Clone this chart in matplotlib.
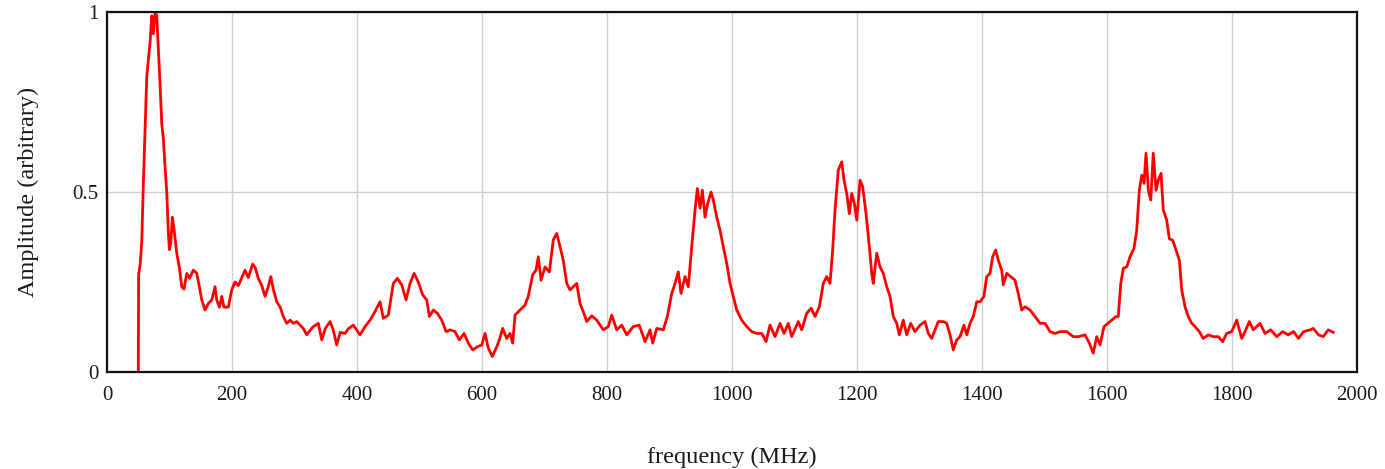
import matplotlib
matplotlib.use("Agg")
import matplotlib.pyplot as plt

# spectrum, (MHz, amplitude)
freq = [50, 50.5, 53, 55.5, 58, 63.5, 69, 71.5, 74, 76.8, 79.5, 84.8, 87.5, 90, 92.8, 95.5, 98, 99.7,
        102, 104.5, 107, 111.5, 115.7, 119.5, 123, 127.5, 132, 138, 143.5, 147.7, 151.5, 156.8, 162,
        167.5, 172.8, 175.5, 179.7, 183.5, 187, 194, 199.5, 204.8, 210, 215.5, 220.8, 226, 233, 237,
        242, 247.5, 252.8, 258, 262, 266, 271.5, 277, 282, 287.5, 293, 298, 303.5, 308.8, 314, 319.5,
        325, 330, 338, 343.5, 349, 356.8, 362, 367.5, 373, 380.8, 386, 394, 404.8, 412.8, 420.8, 428.8,
        436.8, 442, 450, 458, 464.5, 471.5, 478.4, 484.8, 491.2, 498, 505, 511.5, 515.7, 522, 528.5,
        535.5, 542.4, 548.8, 556.8, 563.7, 571.2, 578, 585, 592.5, 599.5, 604.8, 610, 616.5, 623.5,
        627.7, 633, 639.5, 644.8, 649, 652.8, 660.8, 668.8, 674, 681, 686.4, 690, 694.4, 700.8, 707.7,
        714, 719.5, 724.8, 730, 735.5, 740.8, 746, 751.5, 756.8, 763, 767.5, 775.5, 783.5, 794, 802,
        807.5, 815.5, 823.5, 831.5, 842, 851.5, 860.8, 868.8, 873, 879.5, 890, 896.5, 903.5, 908.8,
        914, 918.4, 924.8, 930, 935.5, 940.8, 944.5, 948.8, 952.5, 956.8, 961, 966.4, 970, 975.5,
        980.8, 986, 991.5, 996.8, 1002, 1007.5, 1015.5, 1023.5, 1031.5, 1039.5, 1047.5, 1054.4,
        1060.8, 1068.8, 1076.8, 1083.2, 1090, 1095.5, 1106, 1111.5, 1119.5, 1126.4, 1132.8, 1139.7,
        1146, 1151.5, 1156.8, 1161, 1164.8, 1170, 1175.5, 1179.2, 1183.5, 1187.7, 1191.5, 1195.7,
        1199.5, 1204.8, 1209, 1214.4, 1219.7, 1223.5, 1226, 1231.5, 1236.8, 1242, 1247.5, 1252.8,
        1258, 1263.5, 1267.7, 1274, 1279.5, 1285.8, 1292.8, 1300.8, 1308.8, 1314, 1319.5, 1324.8,
        1330, 1338, 1343.5, 1348.8, 1354, 1359.5, 1364.8, 1371, 1375.5, 1380.8, 1386, 1391.5, 1396.8,
        1403, 1407.5, 1412.8, 1417, 1421.9, 1426, 1431.5, 1434, 1439.5, 1445.8, 1452.8, 1458, 1463.5,
        1468.8, 1476.8, 1484.8, 1492.8, 1500.8, 1508.8, 1516.8, 1524.8, 1535.5, 1546, 1554, 1564.8,
        1571.7, 1578, 1583.5, 1588.8, 1595.2, 1604.8, 1614.4, 1618, 1622, 1626.1, 1631.5, 1636.8,
        1643.2, 1647.5, 1651.7, 1655.5, 1659.2, 1662.4, 1666.1, 1670, 1674, 1678.4, 1682, 1686.4,
        1690, 1695.5, 1699.7, 1705, 1710.4, 1715.8, 1719.5, 1724.8, 1730, 1735.5, 1740.8, 1747.7,
        1754, 1762, 1770, 1778, 1785, 1791.5, 1799.5, 1807.5, 1815.5, 1820.8, 1827.7, 1834, 1844.8,
        1852.8, 1861.8, 1871.5, 1881, 1890, 1898.4, 1906.4, 1914.4, 1925, 1930, 1938.4, 1946, 1954, 1962]

amp = [0.0, 0.27, 0.30, 0.36, 0.52, 0.82, 0.92, 0.99, 0.94, 1.0, 0.99, 0.80, 0.69, 0.65, 0.57, 0.50, 0.39, 0.34,
       0.36, 0.43, 0.40, 0.33, 0.29, 0.237, 0.23, 0.274, 0.26, 0.283, 0.274, 0.237, 0.2, 0.172, 0.19,
       0.2, 0.237, 0.2, 0.18, 0.21, 0.18, 0.18, 0.228, 0.25, 0.24, 0.262, 0.283, 0.262, 0.30, 0.29,
       0.26, 0.24, 0.21, 0.237, 0.265, 0.23, 0.195, 0.18, 0.154, 0.135, 0.144, 0.135, 0.14, 0.13, 0.121, 0.103,
       0.116, 0.126, 0.135, 0.089, 0.12, 0.14, 0.116, 0.075, 0.11, 0.107, 0.12, 0.13, 0.103, 0.126, 0.144, 0.168,
       0.195, 0.149, 0.158, 0.246, 0.26, 0.242, 0.2, 0.246, 0.274, 0.25, 0.214, 0.2, 0.154, 0.172, 0.163,
       0.144, 0.112, 0.117, 0.112, 0.089, 0.107, 0.08, 0.061, 0.07, 0.075, 0.107, 0.066, 0.043, 0.07,
       0.089, 0.121, 0.093, 0.107, 0.08, 0.158, 0.172, 0.186, 0.21, 0.27, 0.283, 0.32, 0.255, 0.292, 0.278,
       0.367, 0.385, 0.348, 0.31, 0.246, 0.228, 0.237, 0.246, 0.19, 0.163, 0.14, 0.156, 0.144, 0.117, 0.126,
       0.158, 0.117, 0.13, 0.103, 0.126, 0.13, 0.084, 0.117, 0.08, 0.121, 0.117, 0.154, 0.218, 0.246,
       0.278, 0.218, 0.265, 0.237, 0.348, 0.45, 0.51, 0.455, 0.505, 0.43, 0.468, 0.5, 0.478, 0.43,
       0.394, 0.348, 0.302, 0.246, 0.21, 0.172, 0.144, 0.126, 0.112, 0.107, 0.107, 0.084,
       0.13, 0.098, 0.135, 0.107, 0.135, 0.098, 0.14, 0.117, 0.163, 0.177, 0.154, 0.181,
       0.246, 0.265, 0.246, 0.339, 0.45, 0.561, 0.584, 0.533, 0.496, 0.44, 0.496, 0.468,
       0.422, 0.533, 0.515, 0.44, 0.348, 0.274, 0.246, 0.33, 0.292, 0.274, 0.237, 0.21,
       0.154, 0.135, 0.103, 0.144, 0.103, 0.135, 0.112, 0.13, 0.14, 0.107, 0.093, 0.117,
       0.14, 0.14, 0.135, 0.103, 0.061, 0.089, 0.098, 0.13, 0.103, 0.135, 0.154, 0.195, 0.195,
       0.21, 0.265, 0.274, 0.32, 0.339, 0.31, 0.283, 0.242, 0.274, 0.265, 0.255, 0.218, 0.172,
       0.181, 0.172, 0.154, 0.135, 0.135, 0.112, 0.107, 0.112, 0.112, 0.098, 0.098, 0.103,
       0.08, 0.052, 0.098, 0.075, 0.126, 0.14, 0.154, 0.154, 0.246, 0.288, 0.292, 0.32,
       0.344, 0.394, 0.505, 0.547, 0.524, 0.608, 0.505, 0.478, 0.608, 0.505, 0.533, 0.552,
       0.45, 0.422, 0.37, 0.366, 0.339, 0.31, 0.228, 0.181, 0.154, 0.135, 0.126, 0.112,
       0.093, 0.103, 0.098, 0.098, 0.084, 0.107, 0.112, 0.144, 0.093, 0.112, 0.14, 0.117, 0.135,
       0.107, 0.117, 0.098, 0.112, 0.103, 0.112, 0.093, 0.112, 0.117, 0.121, 0.103, 0.098, 0.117, 0.11]

x_ticks = [0, 200, 400, 600, 800, 1000, 1200, 1400, 1600, 1800, 2000]
y_ticks = [0, 0.5, 1]
y_tick_labels = ["0", "0.5", "1"]

plt.rcParams['font.family'] = ['Liberation Serif', 'DejaVu Serif']

fig = plt.figure(figsize=(13.85, 4.69), dpi=100)
ax = fig.add_axes([0.0773, 0.207, 0.9025, 0.767])

ax.plot(freq, amp, color='#ff0000', linewidth=2)

ax.set_xlim(0, 2000)
ax.set_ylim(0, 1)
ax.set_xticks(x_ticks)
ax.set_yticks(y_ticks)
ax.set_yticklabels(y_tick_labels)
ax.tick_params(axis='both', length=0, labelsize=15, colors='#1a1a1a')
ax.tick_params(axis='x', pad=10)
ax.tick_params(axis='y', pad=6)

ax.grid(True, color='#d0d0d0', linewidth=1)
ax.set_axisbelow(True)
for s in ax.spines.values():
    s.set_linewidth(1.6)
    s.set_color('#111111')

ax.set_xlabel("frequency (MHz)", fontsize=17.5, labelpad=30, color='#1a1a1a')
ax.set_ylabel("Amplitude (arbitrary)", fontsize=17.5, labelpad=24, color='#1a1a1a')

fig.savefig("out.png", dpi=100)
